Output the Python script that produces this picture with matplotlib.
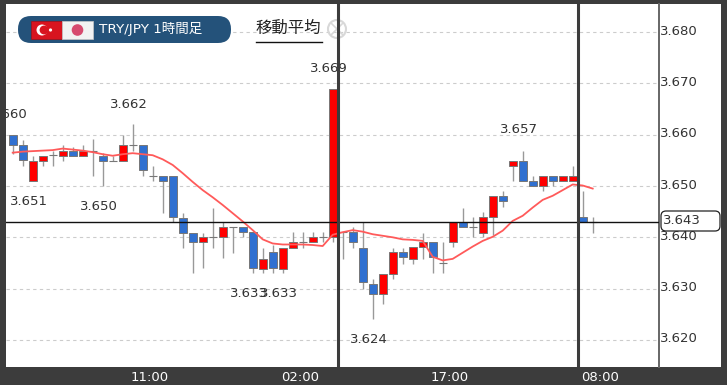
import matplotlib
matplotlib.use("Agg")
import matplotlib.pyplot as plt
from matplotlib.patches import Circle, FancyBboxPatch, Rectangle
from matplotlib.transforms import ScaledTranslation
import numpy as np

plt.rcParams['font.family'] = ['DejaVu Sans', 'Noto Sans CJK JP']

# open/high/low/close of each hourly candle
opens = [3.6600, 3.6580, 3.6510, 3.6549, 3.6560, 3.6558, 3.6568, 3.6558, 3.6568, 3.6558,
         3.6549, 3.6549, 3.6580, 3.6580, 3.6520, 3.6520, 3.6520, 3.6438, 3.6409, 3.6390,
         3.6400, 3.6400, 3.6420, 3.6420, 3.6410, 3.6338, 3.6371, 3.6338, 3.6380, 3.6390,
         3.6390, 3.6400, 3.6400, 3.6410, 3.6410, 3.6380, 3.6309, 3.6289, 3.6329, 3.6371,
         3.6358, 3.6381, 3.6390, 3.6349, 3.6390, 3.6429, 3.6420, 3.6409, 3.6439, 3.6480,
         3.6539, 3.6549, 3.6510, 3.6500, 3.6520, 3.6510, 3.6510, 3.6439, 3.6430]
highs = [3.6600, 3.6590, 3.6558, 3.6558, 3.6569, 3.6580, 3.6577, 3.6580, 3.6591, 3.6564,
         3.6558, 3.6600, 3.6620, 3.6580, 3.6539, 3.6520, 3.6520, 3.6448, 3.6409, 3.6409,
         3.6458, 3.6429, 3.6420, 3.6420, 3.6410, 3.6380, 3.6385, 3.6380, 3.6410, 3.6410,
         3.6410, 3.6410, 3.6690, 3.6410, 3.6420, 3.6429, 3.6319, 3.6329, 3.6380, 3.6380,
         3.6381, 3.6409, 3.6390, 3.6390, 3.6429, 3.6458, 3.6439, 3.6449, 3.6480, 3.6491,
         3.6549, 3.6568, 3.6520, 3.6520, 3.6520, 3.6520, 3.6539, 3.6490, 3.6439]
lows = [3.6562, 3.6539, 3.6510, 3.6539, 3.6539, 3.6549, 3.6558, 3.6558, 3.6520, 3.6500,
        3.6549, 3.6549, 3.6568, 3.6520, 3.6510, 3.6448, 3.6430, 3.6380, 3.6330, 3.6340,
        3.6380, 3.6360, 3.6370, 3.6400, 3.6330, 3.6330, 3.6330, 3.6330, 3.6380, 3.6380,
        3.6390, 3.6390, 3.6390, 3.6358, 3.6380, 3.6300, 3.6240, 3.6270, 3.6319, 3.6348,
        3.6348, 3.6358, 3.6330, 3.6330, 3.6381, 3.6420, 3.6400, 3.6400, 3.6405, 3.6460,
        3.6510, 3.6510, 3.6500, 3.6490, 3.6500, 3.6510, 3.6510, 3.6430, 3.6409]
closes = [3.6580, 3.6550, 3.6549, 3.6558, 3.6560, 3.6568, 3.6558, 3.6568, 3.6568, 3.6549,
          3.6549, 3.6580, 3.6580, 3.6531, 3.6520, 3.6510, 3.6440, 3.6409, 3.6390, 3.6400,
          3.6400, 3.6420, 3.6420, 3.6410, 3.6341, 3.6358, 3.6341, 3.6380, 3.6390, 3.6390,
          3.6400, 3.6400, 3.6690, 3.6410, 3.6390, 3.6312, 3.6289, 3.6329, 3.6371, 3.6361,
          3.6381, 3.6390, 3.6361, 3.6349, 3.6429, 3.6420, 3.6420, 3.6439, 3.6480, 3.6471,
          3.6549, 3.6510, 3.6500, 3.6520, 3.6510, 3.6520, 3.6520, 3.6430, 3.6430]
moving_avg = [3.6565, 3.6567, 3.6568, 3.6569, 3.6570, 3.6573, 3.6571, 3.6569, 3.6566, 3.6562,
              3.6559, 3.6562, 3.6564, 3.6562, 3.6560, 3.6552, 3.6541, 3.6525, 3.6508, 3.6492,
              3.6478, 3.6463, 3.6447, 3.6431, 3.6414, 3.6396, 3.6388, 3.6386, 3.6386, 3.6386,
              3.6385, 3.6383, 3.6405, 3.6410, 3.6414, 3.6411, 3.6406, 3.6403, 3.6400, 3.6396,
              3.6395, 3.6393, 3.6362, 3.6355, 3.6358, 3.6370, 3.6382, 3.6393, 3.6401, 3.6413,
              3.6432, 3.6442, 3.6458, 3.6473, 3.6481, 3.6492, 3.6503, 3.6501, 3.6495]

price_ticks = [3.62, 3.63, 3.64, 3.65, 3.66, 3.67, 3.68]
price_labels = ['3.620', '3.630', '3.640', '3.650', '3.660', '3.670', '3.680']
time_ticks = [13.73, 28.73, 43.73, 58.73]
time_labels = ['11:00', '02:00', '17:00', '08:00']
current_price = 3.643
# (candle index, price, above the candle or not)
peak_labels = [(0, 3.660, True), (2, 3.651, False), (9, 3.650, False), (12, 3.662, True),
               (24, 3.633, False), (27, 3.633, False), (32, 3.669, True), (36, 3.624, False),
               (51, 3.657, True)]

W, H = 727, 385
DARK = '#3c3c3c'
fig = plt.figure(figsize=(W / 100, H / 100), dpi=100, facecolor=DARK)

# white strip behind the price scale
side = fig.add_axes([659 / W, 18 / H, 62 / W, 363 / H])
side.set_xticks([])
side.set_yticks([])
for s in side.spines.values():
    s.set_visible(False)

ax = fig.add_axes([6 / W, 18 / H, 653 / W, 363 / H])
ax.set_xlim(-0.67, 64.63)
ax.set_ylim(3.61472, 3.68548)
ax.set_facecolor('white')
for name, s in ax.spines.items():
    s.set_visible(name == 'right')
ax.spines['right'].set_color('#666666')
ax.spines['right'].set_linewidth(1.4)

ax.yaxis.tick_right()
ax.set_yticks(price_ticks, price_labels)
ax.set_xticks(time_ticks, time_labels)
ax.tick_params(axis='y', length=0, pad=1, labelsize=9.5, labelcolor='#333333')
ax.tick_params(axis='x', length=0, pad=3, labelsize=9.5, labelcolor='white')
ax.grid(axis='y', color='#cccccc', linestyle=(0, (3, 3)), linewidth=0.8)
ax.set_axisbelow(True)
# the scale labels sit a little above their grid lines
nudge = ScaledTranslation(0, 2.5 / 100, fig.dpi_scale_trans)
for label in ax.yaxis.get_majorticklabels():
    label.set_transform(label.get_transform() + nudge)

x = np.arange(len(opens))
o = np.array(opens)
c = np.array(closes)
ax.vlines(x, lows, highs, color='#999999', linewidth=1.0, zorder=2)
# a candle with no range still shows as a short flat dash
flat = o == c
ax.hlines(o[flat], x[flat] - 0.4, x[flat] + 0.4, color='#777777', linewidth=0.8, zorder=2)
up = c > o
down = c < o
ax.bar(x[up], (c - o)[up], bottom=o[up], width=0.8, color='#ff0000', edgecolor='#777777',
       linewidth=0.7, zorder=3)
ax.bar(x[down], (o - c)[down], bottom=c[down], width=0.8, color='#3070d0', edgecolor='#777777',
       linewidth=0.7, zorder=3)
ax.plot(x, moving_avg, color='#ff5a5a', linewidth=1.3, zorder=4)
ax.axhline(current_price, color='#111111', linewidth=1.0, zorder=5)

for i, price, above in peak_labels:
    ax.annotate(f'{price:.3f}', (i, price), xytext=(-2.7, 14.5 if above else -14.5),
                textcoords='offset points', ha='center', va='center', fontsize=9.5,
                color='#333333', annotation_clip=False, clip_on=True, zorder=6)

# header, separators and price box, all placed in pixels
top = fig.add_axes([0, 0, 1, 1])
top.set_xlim(0, W)
top.set_ylim(H, 0)
top.axis('off')
top.patch.set_alpha(0)

top.add_patch(FancyBboxPatch((18, 16), 213, 27, boxstyle='round,pad=0,rounding_size=13',
                             facecolor='#24527a', edgecolor='none'))
top.add_patch(Rectangle((31, 21), 31, 18, facecolor='#d8141f', edgecolor='#a01018', linewidth=0.5))
top.add_patch(Circle((42, 30), 5.5, facecolor='white', edgecolor='none'))
top.add_patch(Circle((44, 30), 4.4, facecolor='#d8141f', edgecolor='none'))
top.add_patch(Circle((50.5, 30), 1.6, facecolor='white', edgecolor='none'))
top.add_patch(Rectangle((62, 21), 31, 18, facecolor='#f2f2f2', edgecolor='#c8c8c8', linewidth=0.5))
top.add_patch(Circle((77.5, 30), 5.8, facecolor='#d64a6e', edgecolor='none'))
top.text(99, 29.5, 'TRY/JPY 1時間足', color='white', fontsize=9.7, va='center', ha='left')

top.text(255.5, 28.5, '移動平均', color='#222222', fontsize=11.8, va='center', ha='left',
         family=['Noto Sans CJK JP', 'DejaVu Sans'])
top.plot([256, 322], [42, 42], color='#111111', linewidth=1)
top.add_patch(Circle((337, 29), 9, facecolor='none', edgecolor='#d8d8d8', linewidth=1.5))
top.plot([331, 343], [23, 35], color='#d8d8d8', linewidth=1.2)
top.plot([331, 343], [35, 23], color='#d8d8d8', linewidth=1.2)

top.vlines([338, 578], 0, 367, color=DARK, linewidth=2.2)

top.add_patch(FancyBboxPatch((661, 211), 59, 20, boxstyle='round,pad=0,rounding_size=5',
                             facecolor='white', edgecolor='#222222', linewidth=0.9))
top.text(663, 221, f'{current_price:.3f}', fontsize=9.5, color='#333333', va='center', ha='left')

fig.savefig('out.png', dpi=100, facecolor=DARK)
